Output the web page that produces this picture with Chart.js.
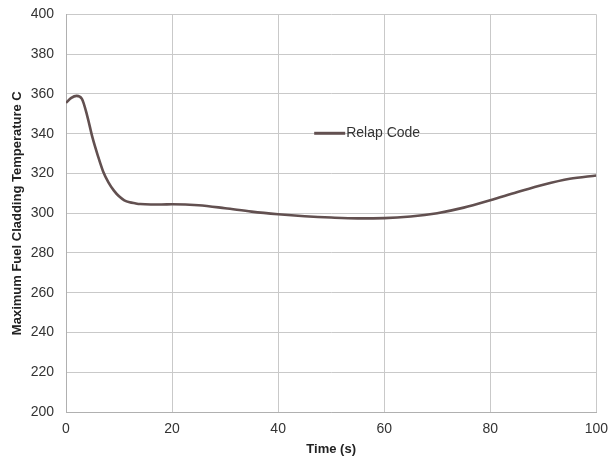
<!DOCTYPE html>
<html>
<head>
<meta charset="utf-8">
<script src="https://cdn.jsdelivr.net/npm/chart.js@4"></script>
<style>
  html, body { margin: 0; padding: 0; background: #fff; overflow: hidden; }
  #wrap { width: 611px; height: 461px; position: relative; overflow: hidden; }
  #c { position: absolute; left: 0; top: -6px; }
</style>
</head>
<body>
<div id="wrap"><canvas id="c" width="617" height="467"></canvas></div>
<script>
// Time in seconds and maximum fuel cladding temperature (C)
const timeS = [0, 1, 2, 3, 4, 5, 6, 7, 8, 9, 10, 11, 12, 13, 14, 16, 18, 20, 25, 30, 35, 40, 45, 50, 55, 60, 65, 70, 75, 80, 85, 90, 95, 100];
const relapTemp = [355.5, 358, 359, 357.5, 349, 338, 329, 321, 315.5, 311.5, 308.5, 306.5, 305.5, 305, 304.6, 304.4, 304.4, 304.5, 304, 302.5, 300.8, 299.5, 298.5, 297.8, 297.4, 297.5, 298.3, 300, 302.8, 306.5, 310.5, 314.3, 317.3, 319];
const seriesName = 'Relap Code';
const xTitle = 'Time (s)';
const yTitle = 'Maximum Fuel Cladding Temperature C';

const points = timeS.map((t, i) => ({ x: t, y: relapTemp[i] }));
const lineColor = '#625050';
const fontFamily = '"Liberation Sans", Arial, sans-serif';

// Legend drawn inside the plot area
const innerLegend = {
  id: 'innerLegend',
  afterDatasetsDraw(chart) {
    const { ctx, chartArea } = chart;
    const ds = chart.data.datasets[0];
    const x0 = chartArea.left + (chartArea.right - chartArea.left) * 0.468;
    const y0 = chartArea.top + (chartArea.bottom - chartArea.top) * 0.299;
    ctx.save();
    ctx.strokeStyle = ds.borderColor;
    ctx.lineWidth = 3;
    ctx.beginPath();
    ctx.moveTo(x0, y0);
    ctx.lineTo(x0 + 31, y0);
    ctx.stroke();
    ctx.fillStyle = '#333';
    ctx.font = '14px ' + fontFamily;
    ctx.textBaseline = 'middle';
    ctx.fillText(ds.label, x0 + 32, y0);
    ctx.restore();
  }
};

new Chart(document.getElementById('c'), {
  type: 'line',
  data: {
    datasets: [{
      label: seriesName,
      data: points,
      borderColor: lineColor,
      borderWidth: 2.6,
      pointRadius: 0,
      tension: 0.4,
      cubicInterpolationMode: 'monotone',
      fill: false
    }]
  },
  options: {
    responsive: false,
    animation: false,
    layout: { padding: { left: 6, top: 0, right: 0, bottom: 0 } },
    plugins: { legend: { display: false }, tooltip: { enabled: false } },
    scales: {
      x: {
        type: 'linear',
        min: 0, max: 100,
        ticks: { stepSize: 20, color: '#333', font: { size: 14, family: fontFamily }, padding: 9 },
        grid: { color: '#c9c9c9', lineWidth: 1, drawTicks: false },
        border: { color: '#b0b0b0' },
        title: { display: true, text: xTitle, color: '#222', font: { size: 13, weight: 'bold', family: fontFamily }, padding: { top: 2 } },
        afterFit(scale) { scale.height = 49; }
      },
      y: {
        min: 200, max: 400,
        ticks: { stepSize: 20, color: '#333', font: { size: 14, family: fontFamily }, padding: 12 },
        grid: { color: '#c9c9c9', lineWidth: 1, drawTicks: false },
        border: { color: '#b0b0b0' },
        title: { display: true, text: yTitle, color: '#222', font: { size: 13, weight: 'bold', family: fontFamily }, padding: { bottom: 4 } },
        afterFit(scale) { scale.width = 60; }
      }
    }
  },
  plugins: [innerLegend]
});
</script>
</body>
</html>
